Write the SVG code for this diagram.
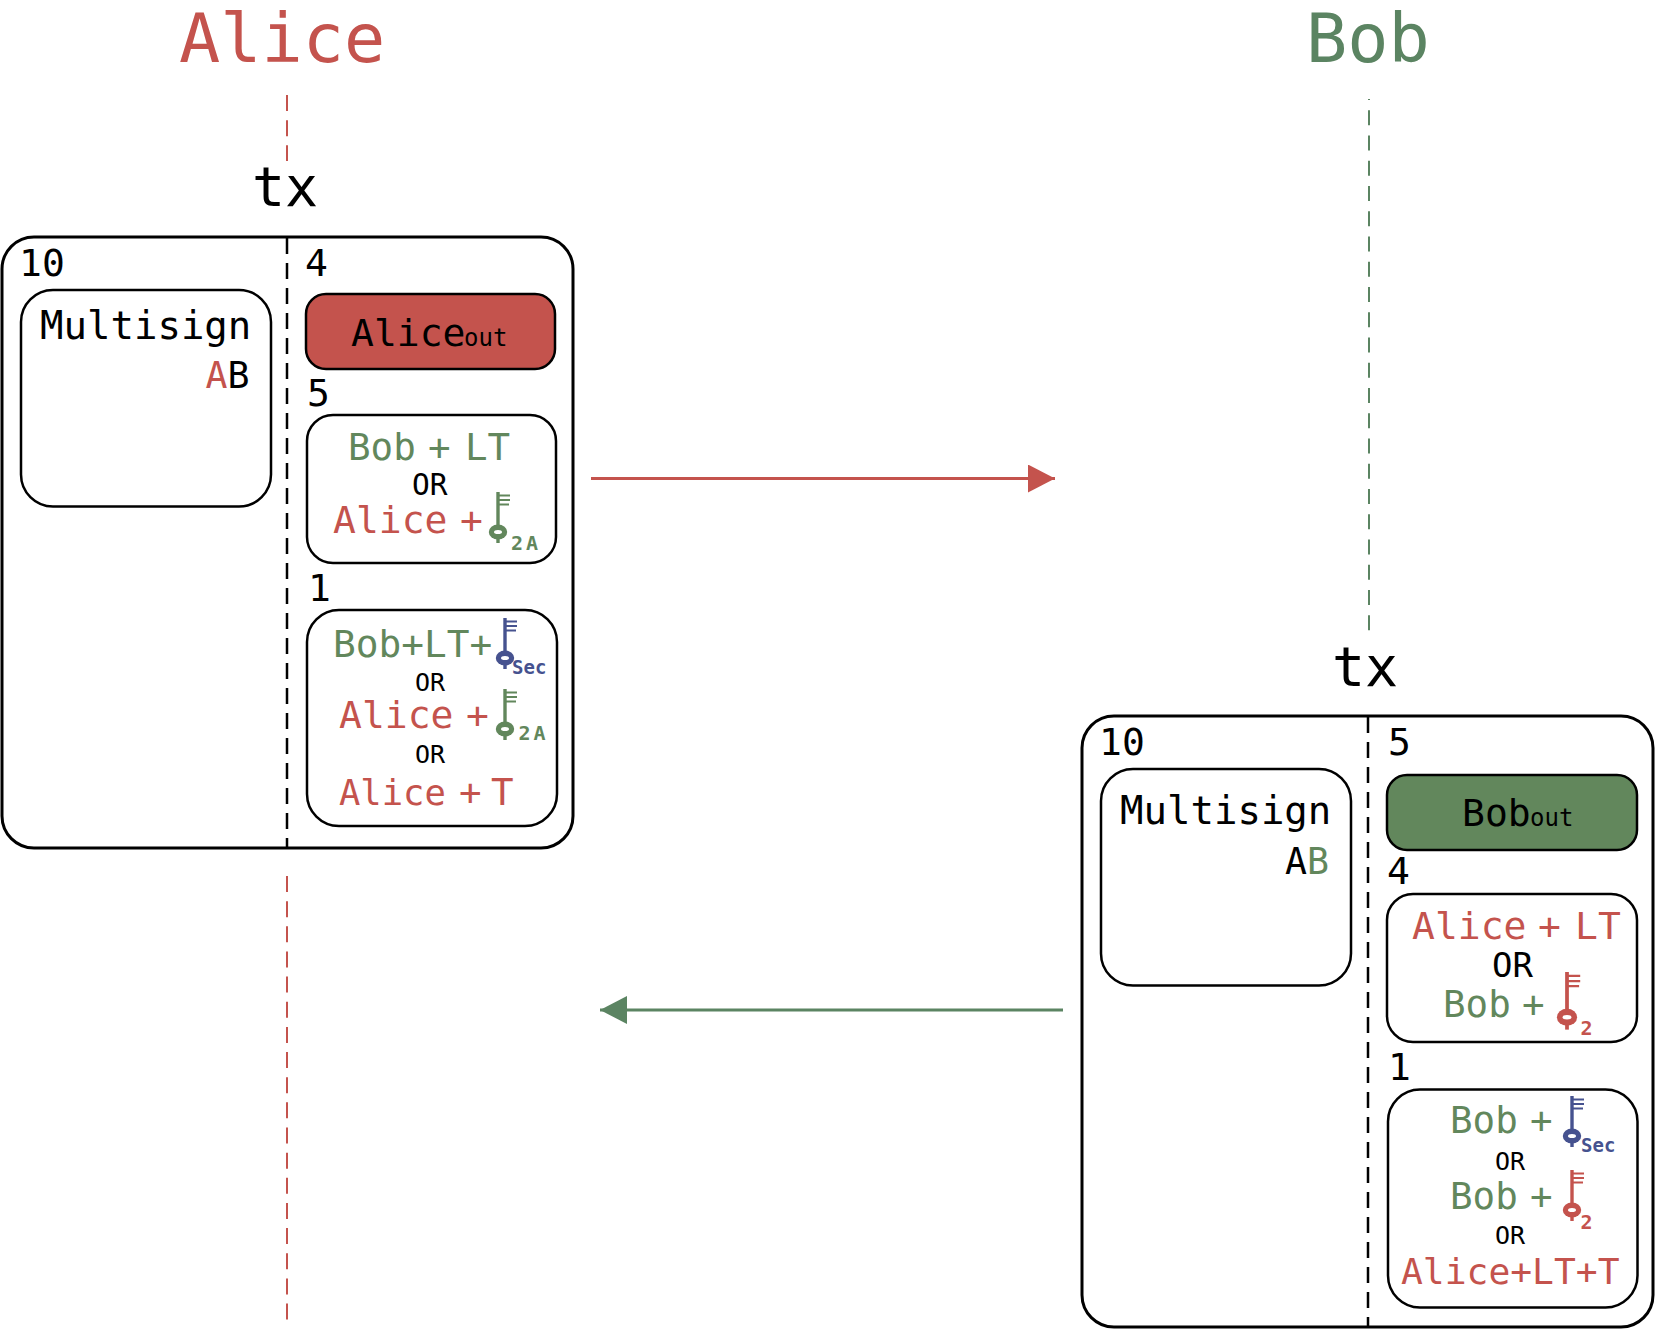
<svg xmlns="http://www.w3.org/2000/svg" xmlns:xlink="http://www.w3.org/1999/xlink" width="1655" height="1329" viewBox="0 0 1655 1329">
<style>
text{font-family:"DejaVu Sans Mono","Liberation Mono",monospace;fill:#000}
.r{fill:#c4534d}.g{fill:#62875c}.b{fill:#46528f}.tg{fill:#5b8462}
.t{font-size:68.5px}.x{font-size:55px}.n{font-size:38px}.l{font-size:37.5px}.w{font-size:38px}.ab{font-size:36.5px}.m{font-size:39px}.o{font-size:25px}.s{font-size:24px}
.k{font-size:20px;font-weight:bold}.q{font-size:19px;font-weight:bold}
.box{fill:#fff;stroke:#000;stroke-width:3}.in{fill:#fff;stroke:#000;stroke-width:2.5}
.dash{fill:none;stroke:#000;stroke-width:2.5;stroke-dasharray:16 9}
.dr{fill:none;stroke:#c4534d;stroke-width:2;stroke-dasharray:16 9.15}
.dg{fill:none;stroke:#5b8462;stroke-width:2;stroke-dasharray:15 10.25;stroke-dashoffset:14}
</style>
<defs>
<g id="key">
<path d="M0 0V51" fill="none" stroke="currentColor" stroke-width="3.4"/>
<path d="M0 3.5H12M0 8H12M0 12.5H11" fill="none" stroke="currentColor" stroke-width="2"/>
<ellipse cx="0" cy="40" rx="9.200" ry="7.500" fill="currentColor"/>
<ellipse cx="0" cy="40" rx="4" ry="2" fill="#fff"/>
</g>
<marker id="ar" markerUnits="userSpaceOnUse" markerWidth="27" markerHeight="28" refX="27" refY="14" orient="auto"><path d="M0 0L27 14L0 28Z" fill="#c4534d"/></marker>
<marker id="ag" markerUnits="userSpaceOnUse" markerWidth="27" markerHeight="28" refX="27" refY="14" orient="auto"><path d="M0 0L27 14L0 28Z" fill="#5b8462"/></marker>
</defs>
<g id="connectors">
<path class="dr" d="M287 95V161"/>
<path class="dr" d="M287 876V1322"/>
<path class="dg" d="M1369 99V631"/>
<path d="M591 478.500H1055" fill="none" stroke="#c4534d" stroke-width="3" marker-end="url(#ar)"/>
<path d="M1063 1010H600" fill="none" stroke="#5b8462" stroke-width="3" marker-end="url(#ag)"/>
</g>
<g id="alice-title"><text class="t r" x="179" y="62">Alice</text></g>
<g id="bob-title"><text class="t tg" x="1306" y="62">Bob</text></g>
<g id="tx-alice">
<text class="x" x="252" y="206">tx</text>
<rect class="box" x="2" y="237" width="571" height="611" rx="32"/>
<path class="dash" d="M287 238V848"/>
<text class="n" x="19" y="276">10</text>
<text class="n" x="305" y="276">4</text>
</g>
<g id="alice-multisig">
<rect class="in" x="21" y="290" width="250" height="216.500" rx="32"/>
<text class="m" x="40" y="339">Multisign</text>
<text class="ab" x="205.500" y="388"><tspan class="r">A</tspan>B</text>
</g>
<g id="alice-out">
<rect x="306" y="294" width="249" height="75" rx="20" fill="#c4534d" stroke="#000" stroke-width="2.500"/>
<text class="w" x="351" y="346">Alice</text><text class="s" x="464" y="346">out</text>
</g>
<g id="alice-htlc">
<text class="n" x="307" y="406">5</text>
<rect class="in" x="307" y="415" width="249" height="148" rx="26"/>
<text class="l g" y="460"><tspan x="348">Bob</tspan><tspan x="428">+</tspan><tspan x="465">LT</tspan></text>
<text class="o" x="412" y="495" style="font-size:29.500px">OR</text>
<text class="w r" y="533"><tspan x="333">Alice</tspan><tspan x="460">+</tspan></text>
<use xlink:href="#key" href="#key" x="498" y="492" color="#62875c"/>
<text class="k g" x="511" y="550" style="letter-spacing:3px">2A</text>
</g>
<g id="alice-commit">
<text class="n" x="308" y="601">1</text>
<rect class="in" x="307" y="610" width="250" height="216" rx="32"/>
<text class="l g" x="333" y="657" style="font-size:37.800px">Bob+LT+</text>
<use xlink:href="#key" href="#key" x="505" y="618" color="#46528f"/>
<text class="q b" x="512" y="674">Sec</text>
<text class="o" x="415" y="691">OR</text>
<text class="w r" y="728"><tspan x="339">Alice</tspan><tspan x="466">+</tspan></text>
<use xlink:href="#key" href="#key" x="505" y="689" color="#62875c"/>
<text class="k g" x="518.500" y="740" style="letter-spacing:3px">2A</text>
<text class="o" x="415" y="763">OR</text>
<text class="l r" y="805"><tspan x="339" style="font-size:35.500px">Alice</tspan><tspan x="459">+</tspan><tspan x="491">T</tspan></text>
</g>
<g id="tx-bob">
<text class="x" x="1332" y="686">tx</text>
<rect class="box" x="1082" y="716" width="571" height="611" rx="32"/>
<path class="dash" d="M1368 717V1327"/>
<text class="n" x="1099" y="755">10</text>
<text class="n" x="1388" y="755">5</text>
</g>
<g id="bob-multisig">
<rect class="in" x="1101" y="769" width="250" height="216.500" rx="32"/>
<text class="m" x="1120" y="824">Multisign</text>
<text class="ab" x="1285" y="874">A<tspan class="g">B</tspan></text>
</g>
<g id="bob-out">
<rect x="1387" y="775" width="250" height="75" rx="20" fill="#62875c" stroke="#000" stroke-width="2.500"/>
<text class="w" x="1462" y="826">Bob</text><text class="s" x="1530" y="826">out</text>
</g>
<g id="bob-htlc">
<text class="n" x="1387" y="884">4</text>
<rect class="in" x="1387" y="894" width="250" height="148" rx="26"/>
<text class="w r" y="939"><tspan x="1412">Alice</tspan><tspan x="1538">+</tspan><tspan x="1575">LT</tspan></text>
<text class="o" x="1492" y="977" style="font-size:34px">OR</text>
<text class="l g" y="1017"><tspan x="1443">Bob</tspan><tspan x="1522">+</tspan></text>
<use xlink:href="#key" href="#key" transform="translate(1567 972) scale(1.1 1.13)" color="#c4534d"/>
<text class="k r" x="1580.500" y="1035">2</text>
</g>
<g id="bob-commit">
<text class="n" x="1388" y="1080">1</text>
<rect class="in" x="1388" y="1089.500" width="249.500" height="218" rx="32"/>
<text class="l g" y="1133"><tspan x="1450">Bob</tspan><tspan x="1530">+</tspan></text>
<use xlink:href="#key" href="#key" x="1572" y="1096" color="#46528f"/>
<text class="q b" x="1581" y="1152">Sec</text>
<text class="o" x="1495" y="1170">OR</text>
<text class="l g" y="1209"><tspan x="1450">Bob</tspan><tspan x="1530">+</tspan></text>
<use xlink:href="#key" href="#key" x="1572" y="1170" color="#c4534d"/>
<text class="k r" x="1580.500" y="1229">2</text>
<text class="o" x="1495" y="1244">OR</text>
<text class="n r" x="1401" y="1284" style="font-size:36.300px">Alice+LT+T</text>
</g>
</svg>
